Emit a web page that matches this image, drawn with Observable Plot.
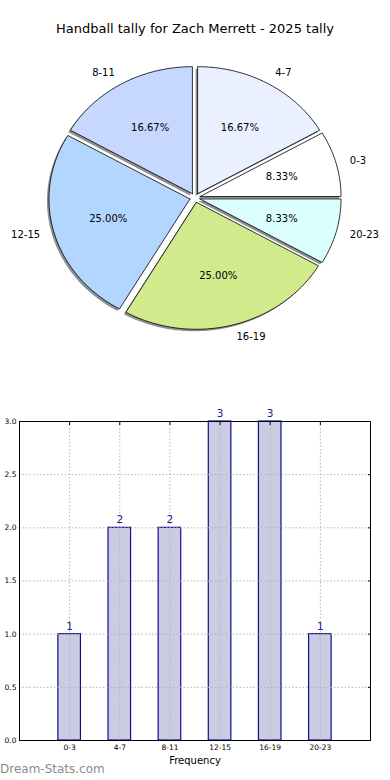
<!DOCTYPE html>
<html>
<head>
<meta charset="utf-8">
<script src="https://cdn.jsdelivr.net/npm/d3@7"></script>
<script src="https://cdn.jsdelivr.net/npm/@observablehq/plot@0.6"></script>
<style>
  html, body { margin: 0; padding: 0; background: #fff; }
  #wrap { position: relative; width: 390px; height: 780px; overflow: hidden; font-family: "DejaVu Sans", sans-serif; }
  #title { position: absolute; top: 21px; left: 0; width: 390px; text-align: center; font-size: 13px; color: #000; }
  #pie { position: absolute; top: 0; left: 0; }
  #bar { position: absolute; top: 380px; left: 0; }
  #mark { position: absolute; left: 0; top: 762px; font-size: 12px; color: #8c8c8c; }
  svg { font-family: "DejaVu Sans", sans-serif; }
</style>
</head>
<body>
<div id="wrap">
  <div id="pie"></div>
  <div id="bar"></div>
  <div id="title">Handball tally for Zach Merrett - 2025 tally</div>
  <div id="mark">Dream-Stats.com</div>
</div>
<script>
// ---- data ----
const categories = ["0-3", "4-7", "8-11", "12-15", "16-19", "20-23"];
const counts = [1, 2, 2, 3, 3, 1];
const pieColors = ["#ffffff", "#eaf0ff", "#c6d8ff", "#b3d6ff", "#d0ea8c", "#dbffff"];
const yTicks = [0, 0.5, 1, 1.5, 2, 2.5, 3];
const xLabel = "Frequency";

// ---- pie geometry (matplotlib-style: start at 0 rad, counter-clockwise) ----
const total = d3.sum(counts);
const explode = 0.037;
const piePts = [];
const labelPts = [];
let cum = 0;
categories.forEach((cat, i) => {
  const a0 = cum / total * 2 * Math.PI;
  cum += counts[i];
  const a1 = cum / total * 2 * Math.PI;
  const mid = (a0 + a1) / 2;
  const ox = explode * Math.cos(mid), oy = explode * Math.sin(mid);
  const n = Math.max(4, Math.ceil((a1 - a0) / (2 * Math.PI) * 240));
  piePts.push({key: cat, x: ox, y: oy, color: pieColors[i]});
  for (let k = 0; k <= n; k++) {
    const t = a0 + (a1 - a0) * k / n;
    piePts.push({key: cat, x: ox + Math.cos(t), y: oy + Math.sin(t), color: pieColors[i]});
  }
  piePts.push({key: cat, x: ox, y: oy, color: pieColors[i]});
  labelPts.push({
    cat,
    pct: (counts[i] / total * 100).toFixed(2) + "%",
    lx: ox + 1.1 * Math.cos(mid), ly: oy + 1.1 * Math.sin(mid),
    px: ox + 0.6 * Math.cos(mid), py: oy + 0.6 * Math.sin(mid)
  });
});

const cx = 194.5, cy = 197.25, rx = 141, ry = 127, pieW = 390, pieH = 380;
const pie = Plot.plot({
  width: pieW, height: pieH, margin: 0,
  x: {domain: [-cx / rx, (pieW - cx) / rx], axis: null},
  y: {domain: [-(pieH - cy) / ry, cy / ry], axis: null},
  color: {type: "identity"},
  marks: [
    Plot.line(piePts, {x: "x", y: "y", z: "key", fill: "#444", fillOpacity: 0.6, stroke: "none", dx: -2, dy: 2}),
    Plot.line(piePts, {x: "x", y: "y", z: "key", fill: "color", stroke: "#000", strokeWidth: 0.8}),
    Plot.text(labelPts.filter(d => d.lx >= 0), {x: "lx", y: "ly", text: "cat", textAnchor: "start", fontSize: 10, fill: "#000"}),
    Plot.text(labelPts.filter(d => d.lx < 0), {x: "lx", y: "ly", text: "cat", textAnchor: "end", fontSize: 10, fill: "#000"}),
    Plot.text(labelPts, {x: "px", y: "py", text: "pct", fontSize: 10, fill: "#000"})
  ]
});
document.getElementById("pie").append(pie);

// ---- bar chart ----
const idx = categories.map((d, i) => i);
const bars = categories.map((c, i) => ({i, cat: c, v: counts[i]}));
const bar = Plot.plot({
  width: 390, height: 400,
  marginTop: 41, marginBottom: 40, marginLeft: 19, marginRight: 20,
  x: {domain: [-1, 6]},
  y: {domain: [0, 3]},
  marks: [
    Plot.rectY(bars, {x1: d => d.i - 0.225, x2: d => d.i + 0.225, y1: 0, y2: "v", fill: "#cbcbe4", stroke: "#10108a", strokeWidth: 1.2}),
    Plot.ruleX(idx, {x: d => d, stroke: "#b4b4b4", strokeDasharray: "1.5,2", strokeWidth: 1}),
    Plot.ruleY(yTicks, {y: d => d, stroke: "#b4b4b4", strokeDasharray: "1.5,2", strokeWidth: 1}),
    Plot.text(bars, {x: "i", y: "v", text: d => String(d.v), dy: -8, fontSize: 10.5, fill: "#1a1a8c"}),
    Plot.frame({stroke: "#000", strokeWidth: 1}),
    Plot.axisX({anchor: "bottom", ticks: idx, tickSize: 0, tickPadding: 4, tickFormat: i => categories[i], fontSize: 7.5, label: null, color: "#000"}),
    Plot.axisY({anchor: "left", ticks: yTicks, tickSize: 0, tickPadding: 3, tickFormat: d3.format(".1f"), fontSize: 7.5, label: null, color: "#000"}),
    Plot.axisX({anchor: "top", ticks: idx, tickSize: -3, tickFormat: () => "", label: null}),
    Plot.axisY({anchor: "right", ticks: yTicks, tickSize: -3, tickFormat: () => "", label: null}),
    Plot.text([xLabel], {frameAnchor: "bottom", lineAnchor: "middle", dy: 20, fontSize: 10, fill: "#000"})
  ]
});
document.getElementById("bar").append(bar);
</script>
</body>
</html>
